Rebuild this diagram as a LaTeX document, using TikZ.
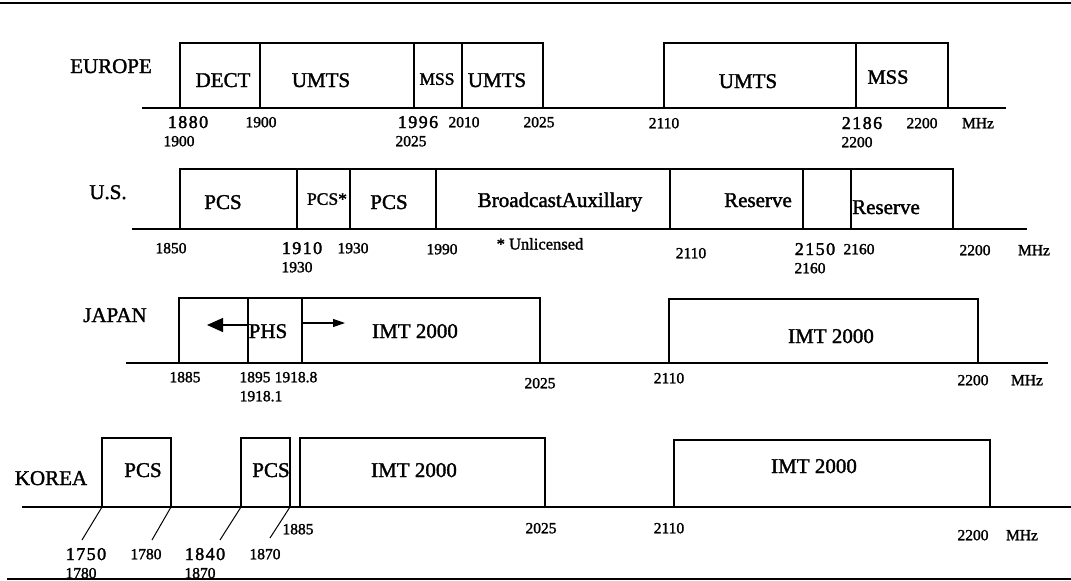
\documentclass[tikz,border=0pt]{standalone}
\usepackage{fontspec}
\setmainfont[FakeBold=1.6]{Liberation Serif}
\newfontfamily\widenum[LetterSpace=8,FakeBold=2]{Liberation Serif}
\usetikzlibrary{arrows.meta}
\begin{document}
\begin{tikzpicture}[x=1pt,y=-1pt,
  band/.style={line width=1.3pt},
  rule/.style={line width=2pt},
  lbl/.style={font=\fontsize{21}{25}\selectfont, inner sep=0pt, text height=14pt, text depth=0pt},
  smalllbl/.style={font=\fontsize{17.5}{20}\selectfont, inner sep=0pt, text height=11.6pt, text depth=0pt},
  num/.style={font=\fontsize{15.5}{18}\selectfont, inner sep=0pt, text height=10.5pt, text depth=0pt},
  wnum/.style={font=\widenum\fontsize{18}{21}\selectfont, inner sep=0pt, text height=12pt, text depth=0pt},
  bigarrow/.style={line width=1.3pt, -{Triangle[length=16pt,width=14pt]}},
  smallarrow/.style={line width=1.1pt, -{Triangle[length=12pt,width=8pt]}}
]
\useasboundingbox (0,0) rectangle (1071,581);
\fill[white] (0,0) rectangle (1071,581);

% frame rules
\draw[rule] (0,3) -- (1071,3);
\draw[rule] (7,579) -- (1071,579);

% ================= EUROPE =================
\node[lbl] (eu) at (111,66) {EUROPE};
\draw[band] (142,108) -- (1006,108);
\draw[band] (180,108) -- (180,43) -- (543,43) -- (543,108);
\draw[band] (260,43) -- (260,108);
\draw[band] (414,43) -- (414,108);
\draw[band] (462,43) -- (462,108);
\draw[band] (664,108) -- (664,43) -- (948,43) -- (948,108);
\draw[band] (856,43) -- (856,108);
\node[lbl] (euDect) at (223,80) {DECT};
\node[lbl] (euUmtsA) at (321,80) {UMTS};
\node[smalllbl] (euMssA) at (437,79) {MSS};
\node[lbl] (euUmtsB) at (497,80) {UMTS};
\node[lbl] (euUmtsC) at (748,81) {UMTS};
\node[font=\fontsize{20.5}{24}\selectfont, inner sep=0pt, text height=13.5pt, text depth=0pt] (euMssB) at (888,77) {MSS};
\node[wnum] (eu1880) at (188,122) {1880};
\node[num] (eu1900b) at (179,141) {1900};
\node[num] (eu1900) at (261,122) {1900};
\node[wnum] (eu1996) at (418,122) {1996};
\node[num] (eu2025b) at (411,141) {2025};
\node[num] (eu2010) at (464,122) {2010};
\node[num] (eu2025) at (539,122) {2025};
\node[num] (eu2110) at (664,123) {2110};
\node[wnum] (eu2186) at (862,123) {2186};
\node[num] (eu2200b) at (857,142) {2200};
\node[num] (eu2200) at (922,123) {2200};
\node[num] (euMHz) at (978,123) {MHz};

% ================= U.S. =================
\node[lbl] (us) at (108,192) {U.S.};
\draw[band] (132,229) -- (1027,229);
\draw[band] (180,229) -- (180,169) -- (953,169) -- (953,229);
\foreach \xx in {297,350,436,670,803,851} \draw[band] (\xx,169) -- (\xx,229);
\node[lbl] (usPcsA) at (223,202) {PCS};
\node[smalllbl] (usPcsB) at (327,199) {PCS*};
\node[lbl] (usPcsC) at (389,202) {PCS};
\node[lbl] (usBA) at (560,200) {BroadcastAuxillary};
\node[lbl] (usResA) at (758,200) {Reserve};
\node[lbl] (usResB) at (886,207) {Reserve};
\node[num] (us1850) at (171,248) {1850};
\node[wnum] (us1910) at (302,248) {1910};
\node[num] (us1930b) at (297,267) {1930};
\node[num] (us1930) at (353,248) {1930};
\node[num] (us1990) at (442,249) {1990};
\node[font=\fontsize{16.5}{19}\selectfont, inner sep=0pt, text height=11pt, text depth=0pt] (usUnl) at (540,244) {* Unlicensed};
\node[num] (us2110) at (691,253) {2110};
\node[wnum] (us2150) at (815,249) {2150};
\node[num] (us2160b) at (810,268) {2160};
\node[num] (us2160) at (859,249) {2160};
\node[num] (us2200) at (975,250) {2200};
\node[num] (usMHz) at (1034,250) {MHz};

% ================= JAPAN =================
\node[lbl] (jp) at (115,315) {JAPAN};
\draw[band] (126,363) -- (1048,363);
\draw[band] (179,363) -- (179,298) -- (540,298) -- (540,363);
\draw[band] (248,298) -- (248,363);
\draw[band] (302,298) -- (302,363);
\draw[band] (669,363) -- (669,299) -- (978,299) -- (978,363);
\coordinate (jpL0) at (248,325);
\coordinate (jpL1) at (207,325);
\coordinate (jpR0) at (302,323);
\coordinate (jpR1) at (345,323);
\draw[bigarrow] (jpL0) -- (jpL1);
\draw[smallarrow] (jpR0) -- (jpR1);
\node[lbl] (jpPhs) at (268,331) {PHS};
\node[lbl] (jpImtA) at (415,331) {IMT 2000};
\node[lbl] (jpImtB) at (831,336) {IMT 2000};
\node[num] (jp1885) at (185,377) {1885};
\node[num] (jp1895) at (255,377) {1895};
\node[num] (jp19188) at (296,377) {1918.8};
\node[num] (jp19181) at (261,396) {1918.1};
\node[num] (jp2025) at (540,383) {2025};
\node[num] (jp2110) at (669,378) {2110};
\node[num] (jp2200) at (973,380) {2200};
\node[num] (jpMHz) at (1027,380) {MHz};

% ================= KOREA =================
\node[lbl] (kr) at (51,478) {KOREA};
\draw[band] (22,507) -- (1071,507);
\draw[band] (102,507) -- (102,438) -- (171,438) -- (171,507);
\draw[band] (241,507) -- (241,438) -- (290,438) -- (290,507);
\draw[band] (300,507) -- (300,438) -- (545,438) -- (545,507);
\draw[band] (674,507) -- (674,440) -- (990,440) -- (990,507);
\coordinate (krA0) at (102,507); \coordinate (krA1) at (82,540);
\coordinate (krB0) at (171,507); \coordinate (krB1) at (152,540);
\coordinate (krC0) at (241,507); \coordinate (krC1) at (220,540);
\coordinate (krD0) at (290,507); \coordinate (krD1) at (270,538);
\draw[line width=1pt] (krA0) -- (krA1);
\draw[line width=1pt] (krB0) -- (krB1);
\draw[line width=1pt] (krC0) -- (krC1);
\draw[line width=1pt] (krD0) -- (krD1);
\node[lbl] (krPcsA) at (143,470) {PCS};
\node[lbl] (krPcsB) at (271,470) {PCS};
\node[lbl] (krImtA) at (414,470) {IMT 2000};
\node[lbl] (krImtB) at (814,466) {IMT 2000};
\node[wnum] (kr1750) at (86,554) {1750};
\node[num] (kr1780b) at (81,573) {1780};
\node[num] (kr1780) at (146,554) {1780};
\node[wnum] (kr1840) at (205,554) {1840};
\node[num] (kr1870b) at (200,573) {1870};
\node[num] (kr1870) at (265,554) {1870};
\node[num] (kr1885) at (298,529) {1885};
\node[num] (kr2025) at (541,528) {2025};
\node[num] (kr2110) at (669,528) {2110};
\node[num] (kr2200) at (973,535) {2200};
\node[num] (krMHz) at (1022,535) {MHz};
\end{tikzpicture}
\end{document}
